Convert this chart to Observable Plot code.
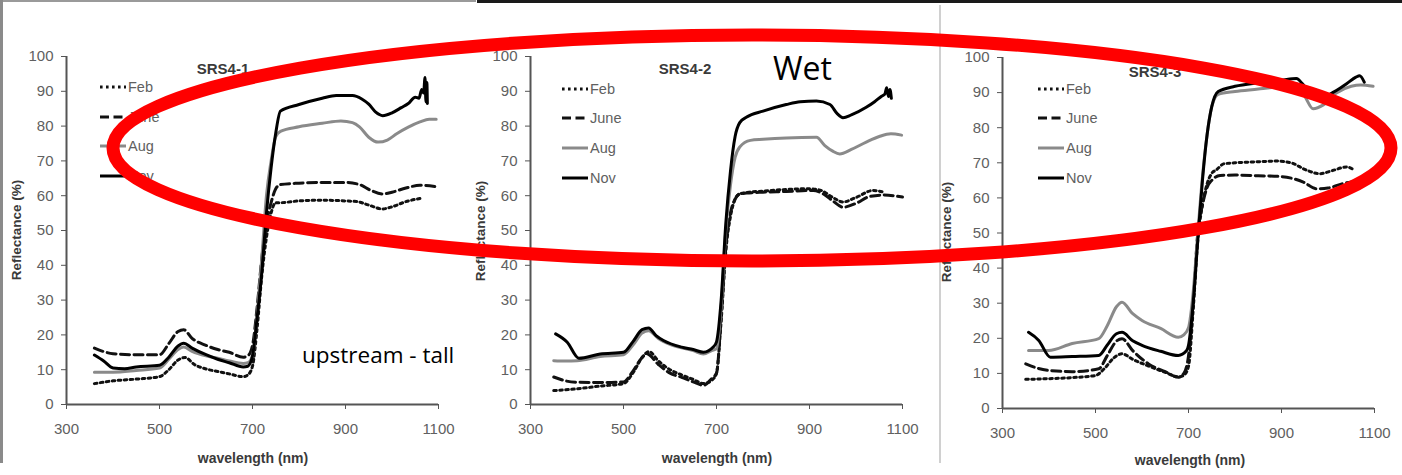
<!DOCTYPE html>
<html><head><meta charset="utf-8">
<script src="https://cdn.jsdelivr.net/npm/d3@7"></script>
<script src="https://cdn.jsdelivr.net/npm/@observablehq/plot@0.6"></script>
<style>
html,body{margin:0;padding:0;background:#fff;}
#root{position:relative;width:1402px;height:475px;overflow:hidden;background:#fff;font-family:"Liberation Sans",Arial,sans-serif;}
.panel{position:absolute;top:0;width:465px;height:475px;}
.panel > svg{position:absolute;left:0;top:0;}
.lab{position:absolute;white-space:nowrap;line-height:1;}
.title{font-weight:bold;font-size:15px;color:#3a3a3a;transform:translate(-50%,-50%);}
.ylab{font-weight:bold;font-size:13.5px;color:#3a3a3a;transform:translate(-50%,-50%) rotate(-90deg);}
.xlab{font-weight:bold;font-size:14px;color:#3a3a3a;transform:translate(-50%,-50%);}
.leg{position:absolute;display:flex;align-items:center;font-size:14.5px;color:#606060;transform:translateY(-50%);}
.leg svg{display:block;margin-right:2px;}
#overlay{position:absolute;left:0;top:0;}
.border{position:absolute;}
</style>
</head><body>
<div id="root"></div>
<script>
// ---- data ----
const panels = ["SRS4-1", "SRS4-2", "SRS4-3"];
const months = ["Feb", "June", "Aug", "Nov"];
const xTicks = [300, 500, 700, 900, 1100];
const yTicks = [0, 10, 20, 30, 40, 50, 60, 70, 80, 90, 100];

// SRS4-1 : [wavelength nm, reflectance %]
const s1_Feb = [[360,6.0],[400,6.8],[450,7.3],[500,8.0],[520,10],[540,12.8],[555,13.5],[575,11.5],[600,10.2],[625,9.5],[650,8.8],[680,8.0],[690,8.5],[700,11],[710,22],[720,37],[730,48],[740,55],[750,58],[760,58],[800,58.5],[850,58.7],[900,58.5],[925,58.3],[950,57.3],[980,56.2],[1000,56.8],[1030,58.3],[1060,59.2]];
const s1_June = [[360,16.2],[380,15.2],[400,14.6],[450,14.3],[500,14.3],[520,17.5],[540,21],[552,21.5],[570,19],[600,17],[625,15.8],[650,15],[680,13.6],[690,14],[700,17],[710,28],[720,42],[730,52],[740,58],[750,62],[760,63.2],[800,63.6],[850,63.8],[900,63.8],[930,63.2],[955,61.5],[980,60.5],[1000,61],[1030,62.2],[1060,63],[1095,62.6]];
const s1_Aug = [[360,9.3],[400,9.3],[450,9.8],[500,10.5],[520,13],[540,15.8],[552,16.5],[570,15.3],[600,14],[625,13.3],[650,12.5],[680,11.8],[690,12],[700,14],[710,26],[720,42],[730,60],[740,70],[750,77],[760,78.5],[800,79.8],[850,80.8],[890,81.5],[915,81.0],[930,79.8],[950,76.8],[970,75.4],[990,76.0],[1010,77.8],[1035,79.7],[1060,81.2],[1080,82.0],[1095,82.0]];
const s1_Nov = [[360,14.2],[380,12.5],[400,10.5],[425,10.3],[450,10.8],[500,11.3],[520,13.6],[540,16.8],[552,17.6],[570,16.2],[600,14.3],[625,13.0],[650,12.0],[680,10.8],[690,11],[700,14],[710,25],[720,38],[730,55],[740,68],[750,78],[760,84.3],[800,86.2],[850,88.0],[880,88.8],[915,88.8],[935,87.8],[950,86.3],[965,84.0],[980,83.0],[1000,83.8],[1020,85.3],[1035,86.5],[1050,88.3],[1058,88],[1064,90.5],[1068,89.5],[1071,94],[1073,87],[1075,92.5],[1076,86.5]];

// SRS4-2
const s2_Feb = [[350,4.0],[400,4.5],[450,5.3],[500,6.0],[520,9],[540,13.5],[555,15.2],[575,12.5],[600,10],[625,8.5],[650,7.2],[672,6.0],[690,7],[700,9],[710,24],[720,44],[730,54],[740,59],[750,60.5],[770,61],[800,61.3],[850,61.8],[900,62.0],[925,61.5],[950,59.5],[972,58.2],[1000,59.5],[1037,61.5],[1060,61.0]];
const s2_June = [[350,7.9],[375,6.8],[400,6.4],[450,6.3],[500,6.5],[520,9.5],[540,13.5],[550,14.6],[575,11.5],[600,9.0],[625,7.8],[650,6.5],[672,5.5],[690,7.5],[700,9],[710,25],[720,45],[730,55],[740,59],[750,60.5],[770,60.8],[800,61],[850,61.2],[908,61.5],[930,60.5],[950,58.5],[972,56.7],[1000,57.8],[1030,59.8],[1060,60.2],[1100,59.6]];
const s2_Aug = [[350,12.6],[375,12.5],[400,12.6],[450,13.8],[500,14.3],[520,17],[540,20.5],[554,21.2],[575,19],[600,17.3],[650,15.5],[672,14.5],[690,15.5],[700,16],[710,28],[720,50],[730,63],[740,71],[750,74],[773,75.9],[800,76.2],[850,76.6],[915,76.8],[933,74.4],[950,72.8],[965,72.0],[990,73.3],[1022,75.4],[1050,77.0],[1075,77.8],[1098,77.4]];
const s2_Nov = [[354,20.3],[379,17.9],[404,13.3],[450,14.5],[500,15.0],[520,18],[540,21.5],[554,22.0],[570,19.8],[586,18.4],[625,16.5],[650,15.8],[672,15.0],[693,16.5],[700,18],[710,30],[720,52],[730,67],[740,77],[750,81],[765,82.6],[800,84.3],[850,86.2],[880,87],[915,87.2],[944,86.2],[960,83.5],[972,82.4],[990,83.2],[1022,85.4],[1040,87],[1055,88.6],[1062,89.2],[1066,91],[1070,88.5],[1073,90.5],[1076,88]];

// SRS4-3
const s3_Feb = [[350,8.3],[400,8.5],[450,8.8],[500,9.4],[520,11.5],[540,14.5],[557,15.6],[580,14],[614,12.1],[650,10.3],[678,9.0],[690,9.5],[700,12],[710,28],[720,48],[730,58],[740,64],[750,67],[760,68],[776,69.7],[800,70],[850,70.3],[890,70.5],[925,69.8],[947,68.3],[983,66.9],[1010,67.8],[1040,68.8],[1058,67.8]];
const s3_June = [[350,12.7],[375,11.5],[403,10.8],[450,10.5],[507,11.3],[525,15],[545,19.2],[557,19.9],[580,16.5],[614,12.7],[650,10.5],[678,8.9],[690,10],[700,15],[710,30],[720,50],[730,58],[740,63],[750,65],[768,66.4],[800,66.5],[850,66.3],[897,66.1],[925,65.5],[947,64.5],[975,62.6],[1000,62.8],[1030,64],[1060,64.8],[1090,65.5]];
const s3_Aug = [[356,16.5],[399,16.5],[450,18.5],[507,19.9],[525,23.5],[545,29],[557,30.3],[580,27],[600,25.1],[640,22.8],[678,20.3],[690,21],[700,23],[710,33],[720,50],[730,66],[740,78],[750,86],[764,89.5],[800,90.3],[850,91],[900,91.8],[932,92.5],[950,89],[968,85.4],[990,86.5],[1018,89.9],[1050,91.8],[1070,92.2],[1097,91.8]];
const s3_Nov = [[356,21.7],[378,19.4],[403,14.6],[450,14.8],[507,15.1],[525,18],[545,21.3],[557,21.7],[580,19.3],[600,18.0],[640,16.3],[678,15.1],[696,16.5],[700,18],[710,30],[720,48],[730,65],[740,78],[750,86],[764,90.3],[800,91.8],[850,92.8],[900,93.5],[932,94],[945,92.5],[955,90.8],[975,88.2],[995,89],[1018,90.6],[1040,92.5],[1060,94.4],[1068,94.8],[1078,93]];

const seriesByPanel = [
  [s1_Feb, s1_June, s1_Aug, s1_Nov],
  [s2_Feb, s2_June, s2_Aug, s2_Nov],
  [s3_Feb, s3_June, s3_Aug, s3_Nov]
];

// ---- styles ----
const styleOf = {
  Feb:  {stroke: "#111", strokeWidth: 3, strokeDasharray: "2.6,3.4"},
  June: {stroke: "#111", strokeWidth: 3, strokeDasharray: "9,4.5"},
  Aug:  {stroke: "#8a8a8a", strokeWidth: 3, strokeDasharray: null},
  Nov:  {stroke: "#000", strokeWidth: 3, strokeDasharray: null}
};

// panel layout
const layout = [
  {left: 0,   mt: 56, mb: 71, legX: 100, legY: [87,117,146,176], titleX: 223, titleY: 68, ylabX: 17, ylabY: 230, xlabX: 253, xlabY: 458},
  {left: 464, mt: 56, mb: 71, legX: 98,  legY: [89,118,148,178], titleX: 221, titleY: 68, ylabX: 17, ylabY: 231, xlabX: 253, xlabY: 458},
  {left: 936, mt: 57, mb: 67, legX: 102, legY: [89,118,148,178], titleX: 219, titleY: 71, ylabX: 11, ylabY: 232, xlabX: 254, xlabY: 460}
];

const root = document.getElementById("root");

// borders of the screenshot
function addBorder(css) { const d = document.createElement("div"); d.className = "border"; Object.assign(d.style, css); root.appendChild(d); }
addBorder({left: "0px", top: "0px", width: "476px", height: "2px", background: "#9a9a9a"});
addBorder({left: "0px", top: "0px", width: "3px", height: "463px", background: "#8a8a8a"});
addBorder({left: "477px", top: "0px", width: "925px", height: "3px", background: "#1a1a1a"});
addBorder({left: "939px", top: "5px", width: "2px", height: "458px", background: "#d0d0d0"});

panels.forEach((name, pi) => {
  const L = layout[pi];
  const rows = [];
  months.forEach((m, mi) => seriesByPanel[pi][mi].forEach(([nm, v]) => rows.push({panel: name, month: m, nm, v})));

  const lineMarks = months.map(m => {
    const s = styleOf[m];
    const o = {x: "nm", y: "v", stroke: s.stroke, strokeWidth: s.strokeWidth, curve: "monotone-x", strokeLinejoin: "round"};
    if (s.strokeDasharray) o.strokeDasharray = s.strokeDasharray;
    return Plot.line(rows.filter(d => d.month === m), o);
  });

  const chart = Plot.plot({
    width: 465, height: 475,
    marginLeft: 66, marginRight: 27, marginTop: L.mt, marginBottom: L.mb,
    style: {fontFamily: "'Liberation Sans', Arial, sans-serif", fontSize: "15px", background: "transparent", overflow: "visible", color: "#5a5a5a"},
    x: {domain: [300, 1100]},
    y: {domain: [0, 100]},
    marks: [
      Plot.axisY(yTicks, {tickSize: 5, tickPadding: 8, label: null, stroke: "#555", fill: "#606060", fontSize: 15, tickFormat: d => String(d)}),
      Plot.axisX(xTicks, {tickSize: 5, tickPadding: 14, label: null, stroke: "#555", fill: "#606060", fontSize: 15, tickFormat: d => String(d)}),
      Plot.ruleX([300], {y1: 0, y2: 100, stroke: "#555", strokeWidth: 2}),
      Plot.ruleY([0], {x1: 300, x2: 1100, stroke: "#555", strokeWidth: 2}),
      ...lineMarks
    ]
  });

  const p = document.createElement("div");
  p.className = "panel";
  p.style.left = L.left + "px";
  p.appendChild(chart);

  const t = document.createElement("div");
  t.className = "lab title"; t.textContent = name;
  t.style.left = L.titleX + "px"; t.style.top = L.titleY + "px";
  p.appendChild(t);

  const yl = document.createElement("div");
  yl.className = "lab ylab"; yl.textContent = "Reflectance (%)";
  yl.style.left = L.ylabX + "px"; yl.style.top = L.ylabY + "px";
  p.appendChild(yl);

  const xl = document.createElement("div");
  xl.className = "lab xlab"; xl.textContent = "wavelength (nm)";
  xl.style.left = L.xlabX + "px"; xl.style.top = L.xlabY + "px";
  p.appendChild(xl);

  months.forEach((m, mi) => {
    const s = styleOf[m];
    const g = document.createElement("div");
    g.className = "leg";
    g.style.left = L.legX + "px"; g.style.top = L.legY[mi] + "px";
    g.innerHTML = `<svg width="26" height="8"><line x1="0" x2="26" y1="4" y2="4" stroke="${s.stroke}" stroke-width="${s.strokeWidth}" ${s.strokeDasharray ? `stroke-dasharray="${s.strokeDasharray}"` : ""}/></svg><span>${m}</span>`;
    p.appendChild(g);
  });

  root.appendChild(p);
});

// annotation overlay: red ellipse and notes
const ns = "http://www.w3.org/2000/svg";
const ov = document.createElementNS(ns, "svg");
ov.setAttribute("id", "overlay"); ov.setAttribute("width", 1402); ov.setAttribute("height", 475);
ov.innerHTML = `
  <ellipse cx="752" cy="148" rx="639" ry="113" fill="none" stroke="#ff0000" stroke-width="13"/>
  <text x="773" y="80" font-family="'Open Sans', sans-serif" font-size="32" fill="#000">Wet</text>
  <text x="302" y="363" font-family="'Open Sans', sans-serif" font-size="22.5" fill="#000">upstream - tall</text>`;
root.appendChild(ov);
</script>
</body></html>
